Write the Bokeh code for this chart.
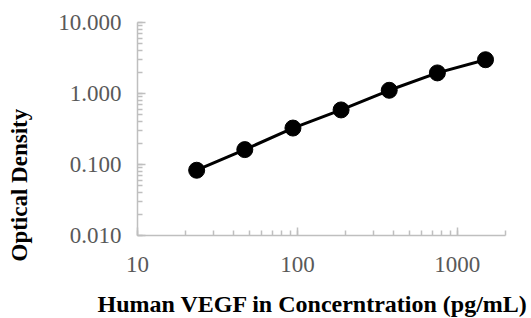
from bokeh.plotting import figure
from bokeh.models import Range1d, PrintfTickFormatter, Title, ColumnDataSource
from bokeh.embed import file_html
from bokeh.resources import INLINE

# Data
concentration = [23.44, 46.88, 93.75, 187.5, 375, 750, 1500]
optical_density = [0.083, 0.162, 0.326, 0.587, 1.11, 1.95, 2.99]
x_title = "Human VEGF in Concerntration (pg/mL)"
y_title = "Optical Density"

src = ColumnDataSource(dict(x=concentration, y=optical_density))

p = figure(width=531, height=318, x_axis_type="log", y_axis_type="log",
           x_range=Range1d(10, 2000), y_range=Range1d(0.01, 10),
           output_backend="svg", toolbar_location=None,
           min_border_left=137, min_border_right=26, min_border_top=22, min_border_bottom=82)

p.line("x", "y", source=src, line_color="black", line_width=3)
p.scatter("x", "y", source=src, size=16, fill_color="black", line_color="black")

p.xgrid.visible = False
p.ygrid.visible = False
p.outline_line_color = None
p.background_fill_color = "white"
p.border_fill_color = "white"

axis_col = "#bfbfbf"
for ax in (p.xaxis[0], p.yaxis[0]):
    ax.axis_line_color = axis_col
    ax.axis_line_width = 1.5
    ax.major_tick_line_color = axis_col
    ax.minor_tick_line_color = axis_col
    ax.major_tick_line_width = 1.5
    ax.minor_tick_line_width = 1.5
    ax.major_tick_in = 8
    ax.major_tick_out = 0
    ax.minor_tick_in = 5
    ax.minor_tick_out = 0
    ax.major_label_text_font = "Liberation Serif"
    ax.major_label_text_font_size = "23px"
    ax.major_label_text_color = "#595959"

p.yaxis[0].formatter = PrintfTickFormatter(format="%.3f")
p.xaxis[0].formatter = PrintfTickFormatter(format="%d")
p.yaxis[0].major_label_standoff = 16
p.xaxis[0].major_label_standoff = 21

def spacer(gap):
    return Title(text=" ", text_font_size="1px", standoff=gap)

p.add_layout(spacer(13), "below")
xt = Title(text=x_title, align="left", offset=-40, vertical_align="top", standoff=0,
           text_font="Liberation Serif", text_font_style="bold", text_font_size="24px",
           text_color="black")
p.add_layout(xt, "below")

p.add_layout(spacer(15), "left")
yt = Title(text=y_title, align="left", offset=-26, vertical_align="top", standoff=8,
           text_font="Liberation Serif", text_font_style="bold", text_font_size="23px",
           text_color="black")
p.add_layout(yt, "left")

open("out.html", "w").write(file_html(p, INLINE))
